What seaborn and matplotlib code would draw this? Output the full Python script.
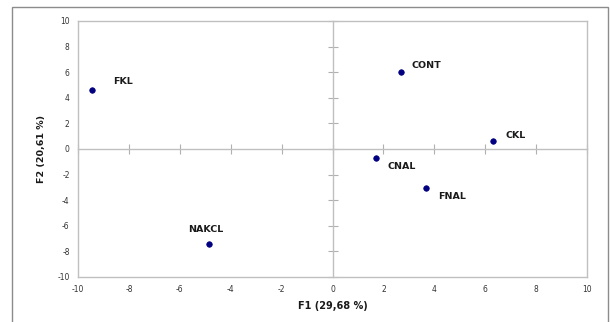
import matplotlib
matplotlib.use("Agg")
import matplotlib.pyplot as plt
import seaborn as sns
import pandas as pd
from matplotlib.patches import Rectangle

# Data
labels = ["FKL", "CONT", "CKL", "CNAL", "FNAL", "NAKCL"]
f1 = [-9.45, 2.69, 6.29, 1.71, 3.66, -4.85]
f2 = [4.6, 6.0, 0.6, -0.68, -3.05, -7.4]
ticks = [-10, -8, -6, -4, -2, 0, 2, 4, 6, 8, 10]
xlabel = "F1 (29,68 %)"
ylabel = "F2 (20,61 %)"

df = pd.DataFrame({"F1": f1, "F2": f2, "label": labels})

sns.set_theme(style="white")
plt.rcParams["font.family"] = ["DejaVu Sans"]
plt.rcParams["axes.unicode_minus"] = False

W, H = 610, 322
fig = plt.figure(figsize=(W / 100, H / 100), dpi=100)

# outer chart border
fig.patches.append(Rectangle((12 / W, -0.05), (608 - 12) / W, 1 - 7 / H + 0.05,
                             transform=fig.transFigure, fill=False,
                             edgecolor="#8c8c8c", linewidth=1.0))

left, right, top, bottom = 78, 587, 21, 277
pos = [left / W, 1 - bottom / H, (right - left) / W, (bottom - top) / H]
ax = fig.add_axes(pos)

sns.scatterplot(data=df, x="F1", y="F2", ax=ax, color="#000080", s=16,
                edgecolor="#000080", linewidth=0.5, zorder=5)

ax.set_xlim(-10, 10)
ax.set_ylim(-10, 10)
ax.set_xticks(ticks)
ax.set_yticks(ticks)
ax.tick_params(axis="both", length=0, labelsize=5.5, colors="#333333", pad=6)
for s in ax.spines.values():
    s.set_color("#c0c0c0")
    s.set_linewidth(1.0)
ax.set_xlabel(xlabel, fontsize=7, fontweight="bold", color="#1a1a1a", labelpad=5)
ax.set_ylabel(ylabel, fontsize=6.8, fontweight="bold", color="#1a1a1a", labelpad=8)

# zero axes with crossing tick marks
ax2 = fig.add_axes(pos, sharex=ax, sharey=ax)
ax2.patch.set_alpha(0)
for side in ["top", "right"]:
    ax2.spines[side].set_visible(False)
for side in ["left", "bottom"]:
    ax2.spines[side].set_position("zero")
    ax2.spines[side].set_color("#c0c0c0")
    ax2.spines[side].set_linewidth(1.0)
ax2.tick_params(axis="both", direction="inout", length=7, width=0.8,
                color="#b0b0b0", bottom=True, left=True, top=False, right=False,
                labelleft=False, labelbottom=False)
ax2.set_xlabel("")
ax2.set_ylabel("")
ax2.set_zorder(0)
ax.set_zorder(1)
ax.patch.set_alpha(0)

offsets = {"FKL": (21, 9, "left"), "CONT": (11, 7, "left"), "CKL": (13, 6, "left"),
           "CNAL": (11, -9, "left"), "FNAL": (12, -8, "left"), "NAKCL": (-3, 14, "center")}
for lab, x, y in zip(labels, f1, f2):
    dx, dy, ha = offsets[lab]
    ax.annotate(lab, (x, y), xytext=(dx, dy), textcoords="offset pixels",
                ha=ha, va="center", fontsize=6.8, fontweight="bold", color="#1a1a1a")

fig.savefig("out.png", dpi=100)
